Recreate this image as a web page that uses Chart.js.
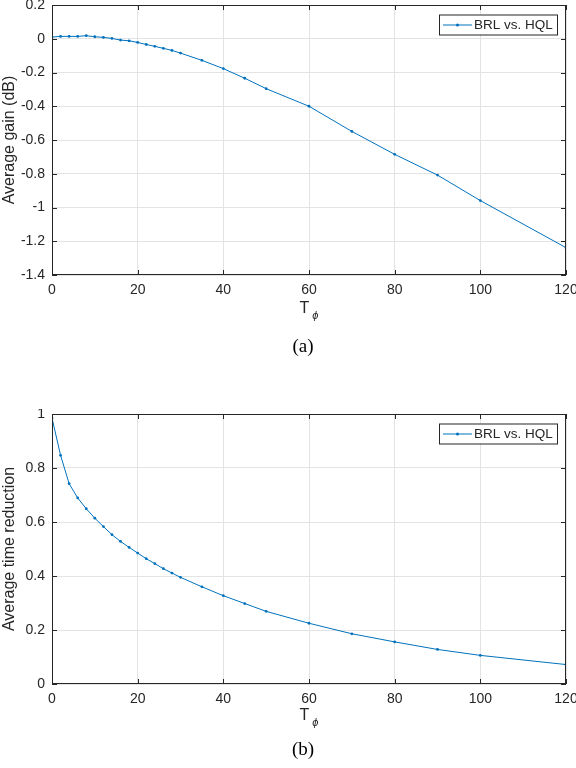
<!DOCTYPE html>
<html>
<head>
<meta charset="utf-8">
<script src="https://cdn.jsdelivr.net/npm/chart.js@4.4.1/dist/chart.umd.min.js"></script>
<style>
  body { margin: 0; background: #fff; width: 576px; height: 768px; position: relative; overflow: hidden; }
  canvas { position: absolute; left: 0; }
  .lbl { position: absolute; color: #262626; font-family: "Liberation Sans", Arial, sans-serif; white-space: nowrap; }
  .xt { font-size: 16px; transform: translateX(-50%); }
  .xt sub { font-size: 11px; font-style: italic; vertical-align: -6px; margin-left: 3px; }
  .cap { font-family: "Liberation Serif", "Times New Roman", serif; font-size: 19px; color: #000; transform: translateX(-50%); }
</style>
</head>
<body>
<canvas id="chartA" width="576" height="300" style="top:0"></canvas>
<canvas id="chartB" width="576" height="300" style="top:409px"></canvas>
<div class="lbl xt" style="left:309px; top:299px">T<sub>ϕ</sub></div>
<div class="lbl cap" style="left:303px; top:335px">(a)</div>
<div class="lbl xt" style="left:309px; top:706px">T<sub>ϕ</sub></div>
<div class="lbl cap" style="left:303px; top:738px">(b)</div>
<script>
// values
var tphi = [0, 2, 4, 6, 8, 10, 12, 14, 16, 18, 20, 22, 24, 26, 28, 30, 35, 40, 45, 50, 60, 70, 80, 90, 100, 120];
var gainDb = [0.010, 0.014, 0.014, 0.014, 0.018, 0.012, 0.008, 0.002, -0.008, -0.012, -0.022, -0.034, -0.045,
  -0.057, -0.069, -0.085, -0.128, -0.177, -0.234, -0.296, -0.400, -0.549, -0.685, -0.808, -0.959, -1.238];
var timeReduction = [0.985, 0.847, 0.742, 0.689, 0.649, 0.614, 0.583, 0.553, 0.528, 0.506, 0.485, 0.464, 0.446,
  0.427, 0.411, 0.395, 0.360, 0.327, 0.298, 0.269, 0.225, 0.186, 0.156, 0.128, 0.106, 0.072];
var seriesName = 'BRL vs. HQL';
var xTicks = { min: 0, max: 120, step: 20 };

var LINE = '#0072BD';
var INK = '#262626';

Chart.defaults.font.family = '"Liberation Sans", Arial, sans-serif';
Chart.defaults.color = INK;

// box around the axes with inward ticks, and a boxed legend in the top right corner
var matlabBox = {
  id: 'matlabBox',
  afterDraw: function(chart) {
    var ctx = chart.ctx, a = chart.chartArea;
    var xs = chart.scales.x, ys = chart.scales.y;
    ctx.save();
    ctx.strokeStyle = INK;
    ctx.lineWidth = 1;
    ctx.strokeRect(a.left + 0.5, a.top + 0.5, a.right - a.left - 1, a.bottom - a.top - 1);
    ctx.beginPath();
    xs.ticks.forEach(function(t) {
      var px = Math.round(xs.getPixelForValue(t.value)) + 0.5;
      ctx.moveTo(px, a.bottom); ctx.lineTo(px, a.bottom - 5);
      ctx.moveTo(px, a.top); ctx.lineTo(px, a.top + 5);
    });
    ys.ticks.forEach(function(t) {
      var py = Math.round(ys.getPixelForValue(t.value)) + 0.5;
      ctx.moveTo(a.left, py); ctx.lineTo(a.left + 5, py);
      ctx.moveTo(a.right, py); ctx.lineTo(a.right - 5, py);
    });
    ctx.stroke();

    // legend
    var w = 118, h = 20;
    var bx = a.right - 9 - w, by = a.top + 9.5;
    ctx.fillStyle = '#fff';
    ctx.fillRect(bx, by, w, h);
    ctx.strokeStyle = INK;
    ctx.strokeRect(bx + 0.5, by + 0.5, w, h);
    var ly = by + h / 2 + 0.5;
    ctx.strokeStyle = LINE;
    ctx.beginPath();
    ctx.moveTo(bx + 4, ly); ctx.lineTo(bx + 33, ly);
    ctx.stroke();
    ctx.fillStyle = LINE;
    ctx.beginPath();
    ctx.arc(bx + 18.5, ly, 1.5, 0, Math.PI * 2);
    ctx.fill();
    ctx.fillStyle = INK;
    ctx.font = '13.5px "Liberation Sans", Arial, sans-serif';
    ctx.textBaseline = 'middle';
    ctx.fillText(chart.data.datasets[0].label, bx + 35, ly + 0.5);
    ctx.restore();
  }
};

function fmt(v) {
  return String(Number(v.toFixed(1)));
}

function makeChart(id, yValues, yMin, yMax, yTitle) {
  var pts = tphi.map(function(x, i) { return { x: x, y: yValues[i] }; });
  return new Chart(document.getElementById(id), {
    type: 'line',
    data: {
      datasets: [{
        label: seriesName,
        data: pts,
        borderColor: LINE,
        backgroundColor: LINE,
        borderWidth: 1,
        pointRadius: 1.4,
        pointBorderWidth: 0,
        pointBackgroundColor: LINE,
        tension: 0,
        fill: false
      }]
    },
    options: {
      responsive: false,
      animation: false,
      devicePixelRatio: 1,
      layout: { padding: { top: 5, right: 10, left: 0, bottom: 0 } },
      plugins: { legend: { display: false }, tooltip: { enabled: false } },
      scales: {
        x: {
          type: 'linear',
          min: xTicks.min, max: xTicks.max,
          ticks: { stepSize: xTicks.step, padding: 7, maxRotation: 0, font: { size: 14 }, color: INK },
          grid: { color: '#e3e3e3', drawTicks: false },
          border: { display: false },
          afterFit: function(s) { s.height = 25; s.paddingLeft = 0; s.paddingRight = 0; }
        },
        y: {
          min: yMin, max: yMax,
          ticks: { stepSize: 0.2, padding: 7, font: { size: 14 }, color: INK, callback: fmt },
          grid: { color: '#e3e3e3', drawTicks: false },
          border: { display: false },
          title: { display: true, text: yTitle, font: { size: 16 }, color: INK, padding: { top: 0, bottom: 0 } },
          afterFit: function(s) { s.width = 52; s.paddingTop = 0; s.paddingBottom = 0; }
        }
      }
    },
    plugins: [matlabBox]
  });
}

makeChart('chartA', gainDb, -1.4, 0.2, 'Average gain (dB)');
makeChart('chartB', timeReduction, 0, 1, 'Average time reduction');
</script>
</body>
</html>
